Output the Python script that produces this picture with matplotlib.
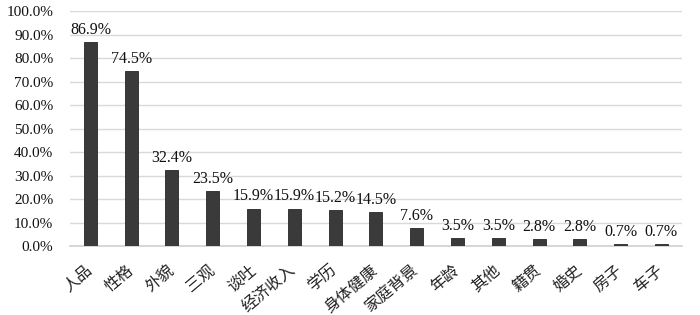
import matplotlib.pyplot as plt
from matplotlib.ticker import FuncFormatter

# === data ===
categories = ["人品", "性格", "外貌", "三观", "谈吐", "经济收入", "学历", "身体健康",
              "家庭背景", "年龄", "其他", "籍贯", "婚史", "房子", "车子"]
percent = [86.9, 74.5, 32.4, 23.5, 15.9, 15.9, 15.2, 14.5, 7.6, 3.5, 3.5, 2.8, 2.8, 0.7, 0.7]

num_font = "Liberation Serif"
cjk_font = ["Noto Sans CJK SC", "DejaVu Sans"]

fig = plt.figure(figsize=(7, 3.15), dpi=100)
ax = fig.add_axes([0.1, 0.219, 0.874, 0.746])

x = range(len(categories))
ax.bar(x, percent, width=0.32, color="#3a3a3a", edgecolor="#262626", linewidth=0.6, zorder=3)

for i, v in enumerate(percent):
    ax.text(i, v + 1.8, f"{v:.1f}%", ha="center", va="bottom",
            fontsize=11.5, family=num_font, color="#111111", zorder=4)

ax.set_xlim(-0.5, len(categories) - 0.5)
ax.set_ylim(0, 100)
ax.set_yticks(range(0, 101, 10))
ax.yaxis.set_major_formatter(FuncFormatter(lambda v, p: f"{v:.1f}%"))
for lab in ax.get_yticklabels():
    lab.set_family(num_font)
    lab.set_fontsize(11)
    lab.set_color("#111111")

ax.set_xticks(list(x))
ax.set_xticklabels(categories, rotation=40, ha="right", va="center", rotation_mode="anchor",
                   family=cjk_font, fontsize=11.5, color="#222222")

ax.grid(axis="y", color="#d9d9d9", linewidth=1, zorder=0)
ax.tick_params(axis="y", length=0, pad=12)
ax.tick_params(axis="x", length=0, pad=16)
for s in ["top", "right", "left"]:
    ax.spines[s].set_visible(False)
ax.spines["bottom"].set_color("#d0d0d0")
ax.spines["bottom"].set_linewidth(1.2)

fig.savefig("out.png", dpi=100)
